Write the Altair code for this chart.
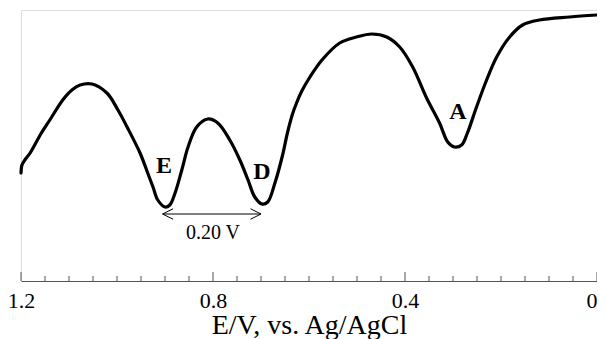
import altair as alt
import pandas as pd

# Voltammogram trace (potential in V vs Ag/AgCl, relative current, arbitrary units)
potential = [1.200, 1.198, 1.192, 1.181, 1.160, 1.140, 1.113, 1.094, 1.077, 1.052,
             1.021, 0.998, 0.979, 0.952, 0.936, 0.925, 0.915, 0.900, 0.890, 0.879,
             0.865, 0.852, 0.834, 0.811, 0.790, 0.765, 0.744, 0.727, 0.713, 0.698,
             0.686, 0.671, 0.655, 0.645, 0.635, 0.626, 0.615, 0.598, 0.573, 0.536,
             0.501, 0.469, 0.438, 0.411, 0.384, 0.355, 0.328, 0.311, 0.297, 0.282,
             0.270, 0.251, 0.230, 0.209, 0.182, 0.155, 0.120, 0.057, 0.001]
current = [108, 116, 121, 128, 146, 161, 181, 191, 196, 197,
           188, 171, 154, 128, 108, 94, 81, 74, 76, 88,
           111, 134, 154, 162, 158, 141, 121, 101, 84, 77,
           79, 98, 126, 148, 166, 178, 190, 204, 221, 238,
           244, 247, 244, 234, 214, 183, 158, 139, 134, 136,
           148, 174, 201, 224, 244, 256, 261, 264, 266]

peak_labels = ["E", "D", "A"]
peak_x = [0.902, 0.698, 0.290]
peak_y = [115, 109, 169]

major_ticks = [1.2, 0.8, 0.4, 0.0]
minor_ticks = [round(1.2 - 0.05 * i, 2) for i in range(25) if i % 8]

sep_start = 0.905
sep_end = 0.700
sep_y = 67
sep_text = "0.20 V"
sep_text_x = 0.800
sep_text_y = 48

PLOT_W = 576
PLOT_H = 271
FONT = "Liberation Serif"

trace = pd.DataFrame({"E": potential, "I": current})
peaks = pd.DataFrame({"E": peak_x, "I": peak_y, "label": peak_labels})
major = pd.DataFrame({"E": major_ticks})
minor = pd.DataFrame({"E": minor_ticks})
arrow = pd.DataFrame({"E": [sep_start], "E2": [sep_end], "I": [sep_y]})
heads = pd.DataFrame({"E": [sep_start, sep_end], "I": [sep_y, sep_y],
                      "side": ["left", "right"]})
sep_lab = pd.DataFrame({"E": [sep_text_x], "I": [sep_text_y], "label": [sep_text]})

xscale = alt.Scale(domain=[0, 1.2], reverse=True, nice=False, zero=False)
yscale = alt.Scale(domain=[0, PLOT_H], nice=False, zero=False)
xaxis = alt.Axis(
    values=major_ticks,
    labelExpr="datum.value == 0 ? '0' : format(datum.value, '.1f')",
    labelAlign={"condition": {"test": "datum.value == 0", "value": "right"},
                "value": "center"},
    ticks=False, tickSize=0, grid=False,
    domainColor="#555555", domainWidth=1,
    labelFont=FONT, labelFontSize=22, labelColor="black", labelPadding=9,
    labelOverlap=False, labelFlush=False,
    title="E/V, vs. Ag/AgCl", titleFont=FONT, titleFontSize=28,
    titleFontWeight="normal", titleColor="black",
    titleBaseline="alphabetic", titleY=52,
)

def X(field="E"):
    return alt.X(f"{field}:Q", scale=xscale, axis=xaxis)

Y = alt.Y("I:Q", scale=yscale, axis=None)

line = alt.Chart(trace).mark_line(
    color="black", strokeWidth=3.2, interpolate="catmull-rom",
    strokeJoin="round", strokeCap="round"
).encode(x=X(), y=Y, order=alt.Order("E:Q", sort="descending"))

major_rules = alt.Chart(major).mark_rule(color="#555555", strokeWidth=1).encode(
    x=X(), y=alt.value(PLOT_H), y2=alt.value(PLOT_H - 9))
minor_rules = alt.Chart(minor).mark_rule(color="#555555", strokeWidth=1).encode(
    x=X(), y=alt.value(PLOT_H), y2=alt.value(PLOT_H - 5))

peak_text = alt.Chart(peaks).mark_text(
    font=FONT, fontSize=24, fontWeight="bold", color="black",
    align="center", baseline="middle"
).encode(x=X(), y=Y, text="label:N")

arrow_line = alt.Chart(arrow).mark_rule(color="black", strokeWidth=1).encode(
    x=X(), x2="E2:Q", y=Y)

left_head = alt.Chart(heads).transform_filter("datum.side == 'left'").mark_point(
    shape="M0,0L2,-1M0,0L2,1", size=110, filled=False, color="black",
    strokeWidth=1, opacity=1
).encode(x=X(), y=Y)
right_head = alt.Chart(heads).transform_filter("datum.side == 'right'").mark_point(
    shape="M0,0L-2,-1M0,0L-2,1", size=110, filled=False, color="black",
    strokeWidth=1, opacity=1
).encode(x=X(), y=Y)

sep_label = alt.Chart(sep_lab).mark_text(
    font=FONT, fontSize=20, color="black", align="center", baseline="middle"
).encode(x=X(), y=Y, text="label:N")

chart = alt.layer(
    major_rules, minor_rules, line, peak_text, arrow_line, left_head, right_head, sep_label
).properties(
    width=PLOT_W, height=PLOT_H,
    autosize=alt.AutoSizeParams(type="none"),
    padding={"left": 13, "top": 2, "right": 0, "bottom": 58},
).configure_view(stroke=None).configure(background="white")

chart.save("out.html", embed_options={"renderer": "svg", "actions": False})
